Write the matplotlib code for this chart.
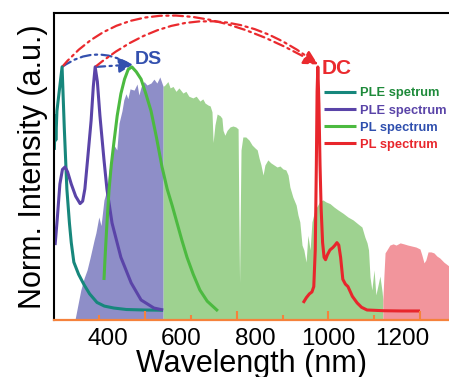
import matplotlib
matplotlib.use("Agg")
import matplotlib.pyplot as plt
from matplotlib.patches import FancyArrowPatch
import numpy as np

plt.rcParams['font.family'] = ['Liberation Sans', 'DejaVu Sans']

# solar spectrum (AM1.5 like), split by colour region
solar_uv_wl = [310, 318, 326, 335, 343, 351, 356, 362, 367, 375, 381, 389, 397, 403, 408, 416, 424, 430,
               438, 443, 449, 454, 460, 471, 479, 484, 490, 498, 506, 517, 525, 533, 541, 550]
solar_uv = [-0.037, 0.025, 0.086, 0.135, 0.168, 0.217, 0.25, 0.29, 0.32, 0.385, 0.35, 0.455, 0.496, 0.578,
            0.62, 0.68, 0.66, 0.77, 0.82, 0.865, 0.89, 0.87, 0.91, 0.905, 0.93, 0.885, 0.918, 0.94, 0.926,
            0.934, 0.95, 0.934, 0.959, 0.92]

solar_vis_wl = [550, 555, 563, 569, 577, 585, 593, 604, 612, 620, 631, 640, 650, 658, 664, 672, 678, 683, 686, 691,
                697, 705, 710, 713, 718, 724, 732, 740, 748, 754, 756, 758, 760, 762, 767, 775, 784, 792, 800, 806,
                811, 816, 822, 827, 835, 843, 852, 860, 868, 876, 884, 890, 895, 903, 912, 917, 922, 928, 933, 939,
                944, 950, 955, 963, 971, 977, 985, 993, 1004, 1015, 1026, 1040, 1053, 1067, 1080, 1091, 1099, 1105,
                1109, 1113, 1118, 1124, 1129, 1135, 1140, 1146, 1148]
solar_vis = [0.92, 0.926, 0.94, 0.914, 0.92, 0.90, 0.914, 0.893, 0.90, 0.88, 0.873, 0.88, 0.86, 0.869, 0.852, 0.844,
             0.84, 0.816, 0.69, 0.762, 0.807, 0.80, 0.79, 0.74, 0.72, 0.74, 0.754, 0.758, 0.754, 0.746, 0.40, 0.115,
             0.40, 0.66, 0.713, 0.713, 0.70, 0.68, 0.668, 0.66, 0.627, 0.60, 0.557, 0.598, 0.619, 0.607, 0.598, 0.59,
             0.594, 0.582, 0.578, 0.557, 0.508, 0.467, 0.434, 0.393, 0.365, 0.27, 0.25, 0.20, 0.31, 0.25, 0.365,
             0.414, 0.434, 0.45, 0.455, 0.447, 0.44, 0.426, 0.414, 0.40, 0.385, 0.373, 0.357, 0.344, 0.303, 0.279,
             0.25, 0.14, 0.086, 0.168, 0.066, 0.107, 0.143, 0.078, 0.045]

solar_ir_wl = [1148, 1151, 1154, 1159, 1167, 1176, 1184, 1195, 1205, 1216, 1227, 1238, 1249, 1254, 1260, 1265,
               1271, 1279, 1287, 1295, 1303, 1314, 1328]
solar_ir = [0.045, 0.148, 0.238, 0.25, 0.27, 0.275, 0.27, 0.279, 0.275, 0.27, 0.266, 0.262, 0.254, 0.23, 0.197,
            0.209, 0.242, 0.242, 0.238, 0.225, 0.217, 0.20, 0.184]

# excitation / emission spectra
ple1_wl = [254, 256, 258, 261, 268, 275, 281, 288, 295, 300, 307, 320, 335, 350, 370, 390, 416, 450, 500, 550]
ple1 = [0.66, 0.80, 0.70, 0.82, 0.91, 1.00, 0.75, 0.50, 0.36, 0.28, 0.20, 0.15, 0.107, 0.07, 0.035, 0.02, 0.012,
        0.006, 0.004, 0.003]

ple2_wl = [256, 262, 269, 276, 283, 290, 300, 312, 324, 331, 337, 345, 354, 360, 365, 371, 378, 389, 397, 411,
           435, 463, 490, 525, 550]
ple2 = [0.27, 0.38, 0.52, 0.58, 0.59, 0.57, 0.52, 0.47, 0.44, 0.45, 0.50, 0.63, 0.78, 0.92, 1.00, 0.94, 0.80,
        0.62, 0.50, 0.36, 0.22, 0.115, 0.045, 0.012, 0.004]

pl1_wl = [389, 392, 396, 400, 403, 409, 416, 425, 435, 445, 455, 465, 477, 490, 503, 517, 532, 547, 561, 575, 588,
          601, 615, 632, 650, 670, 699]
pl1 = [0.127, 0.22, 0.33, 0.43, 0.50, 0.60, 0.69, 0.80, 0.89, 0.95, 0.99, 1.00, 0.98, 0.95, 0.89, 0.82, 0.71, 0.59,
       0.50, 0.43, 0.36, 0.29, 0.22, 0.15, 0.086, 0.04, 0.0]

pl2_wl = [931, 940, 948, 955, 960, 964, 967, 969, 971, 974, 977, 980, 984, 988, 992, 997, 1004, 1012, 1018, 1023,
          1028, 1033, 1039, 1046, 1053, 1065, 1078, 1090, 1105, 1150, 1200, 1249]
pl2 = [0.033, 0.055, 0.07, 0.078, 0.10, 0.25, 0.60, 0.90, 1.00, 0.85, 0.60, 0.42, 0.28, 0.22, 0.21, 0.23, 0.25,
       0.26, 0.27, 0.28, 0.27, 0.22, 0.13, 0.11, 0.10, 0.06, 0.033, 0.015, 0.004, 0.001, 0.0, 0.0]

labels = ['PLE spetrum', 'PLE spectrum', 'PL spectrum', 'PL spectrum']
line_colors = ['#17877c', '#5a44a8', '#4cba40', '#e8262c']
text_colors = ['#1e8a3a', '#5a44a8', '#2f4fae', '#e8262c']
tick_vals = [400, 600, 800, 1000, 1200]
mark_long = [500, 750, 1000, 1250]
mark_short = [375, 625, 875, 1125]

y_floor = -0.037
orange = '#f5823c'

fig = plt.figure(figsize=(4.49, 3.77), dpi=100)
ax = fig.add_axes([54 / 449, 57 / 377, 395 / 449, 307 / 377])

ax.fill_between(solar_uv_wl, solar_uv, y_floor, color='#8e8ec8', lw=0)
ax.fill_between(solar_vis_wl, solar_vis, y_floor, color='#9ed290', lw=0)
ax.fill_between(solar_ir_wl, solar_ir, y_floor, color='#f2959c', lw=0)

lines = []
for wl, v, c in zip([ple1_wl, ple2_wl, pl1_wl, pl2_wl], [ple1, ple2, pl1, pl2], line_colors):
    l, = ax.plot(wl, v, color=c, lw=2.2, solid_capstyle='butt')
    lines.append(l)

# peak positions for the arrows
pk = [(wl[int(np.argmax(v))], max(v)) for wl, v in
      zip([ple1_wl, ple2_wl, pl1_wl, pl2_wl], [ple1, ple2, pl1, pl2])]

ds_col = '#3350ae'
dc_col = '#ea2a2e'
dash = (0, (4.5, 2, 1, 2))

def arrow(p0, p1, col, conn, head=True):
    style = '-|>,head_length=0.6,head_width=0.32' if head else '-'
    a = FancyArrowPatch(p0, p1, connectionstyle=conn, arrowstyle=style,
                        mutation_scale=14, color=col, lw=1.6, linestyle=dash, shrinkA=0, shrinkB=0)
    ax.add_patch(a)

tip_ds = (pk[2][0] + 3, pk[2][1] + 0.01)
tip_dc = (pk[3][0], pk[3][1] + 0.01)
arrow(pk[0], (tip_ds[0] - 8, tip_ds[1]), ds_col, 'arc3,rad=-0.33', head=False)
arrow(pk[1], tip_ds, ds_col, 'arc3,rad=0')
arrow(pk[0], tip_dc, dc_col, 'angle3,angleA=50,angleB=150')
arrow(pk[1], tip_dc, dc_col, 'arc3,rad=-0.4', head=False)

ax.text(tip_ds[0] + 5, 1.03, 'DS', color=ds_col, fontsize=14, fontweight='bold', ha='left', va='center')
ax.text(pk[3][0] + 11, 0.995, 'DC', color=dc_col, fontsize=15, fontweight='bold', ha='left', va='center')

leg = ax.legend(lines, labels, loc='upper left', bbox_to_anchor=(0.683, 0.758), frameon=False,
                prop={'weight': 'bold', 'size': 9.3}, handlelength=2.5, handletextpad=0.3,
                labelspacing=0.4, borderpad=0, borderaxespad=0)
for t, c in zip(leg.get_texts(), text_colors):
    t.set_color(c)

ax.set_xlim(253, 1328)
ax.set_ylim(y_floor, 1.221)
ax.set_yticks([])

# orange tick marks on the axis line, labels placed separately
ax.set_xticks(mark_short, labels=[])
ax.set_xticks(tick_vals, labels=[str(v) for v in tick_vals], minor=True)
ax.tick_params(axis='x', which='major', direction='in', length=3.5, width=1.5, color=orange)
ax.tick_params(axis='x', which='minor', length=0, pad=6, labelsize=17.5)

ax2 = ax.twiny()
ax2.set_xlim(ax.get_xlim())
ax2.xaxis.set_ticks_position('bottom')
ax2.set_xticks(mark_long, labels=[])
ax2.tick_params(axis='x', direction='in', length=6.5, width=1.5, color=orange)
for s in ax2.spines.values():
    s.set_visible(False)

for s in ['top', 'left']:
    ax.spines[s].set_linewidth(1.5)
    ax.spines[s].set_color('black')
ax.spines['right'].set_visible(False)
ax.spines['bottom'].set_color(orange)
ax.spines['bottom'].set_linewidth(1.6)

ax.set_xlabel('Wavelength (nm)', fontsize=22, labelpad=-1)
ax.set_ylabel('Norm. Intensity (a.u.)', fontsize=22, labelpad=4)

fig.savefig('out.png', dpi=100)
